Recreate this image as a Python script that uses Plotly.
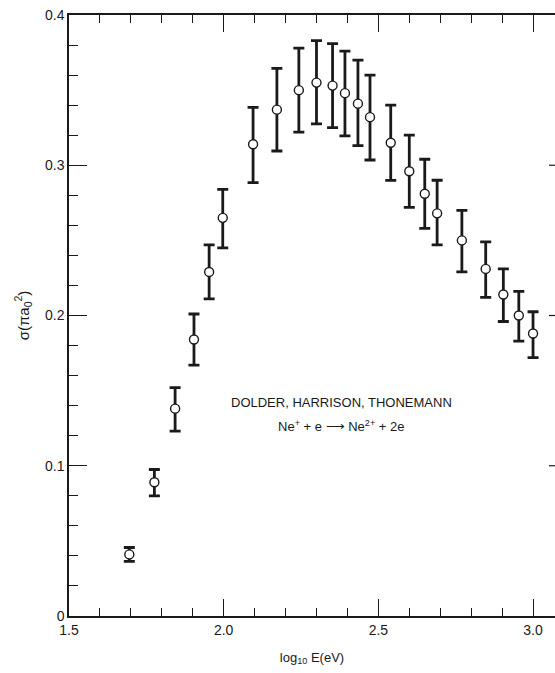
import plotly.graph_objects as go

# data
log_e = [1.695, 1.776, 1.843, 1.904, 1.953, 1.997, 2.095, 2.172, 2.243, 2.300, 2.352,
         2.392, 2.434, 2.473, 2.540, 2.600, 2.650, 2.690, 2.770, 2.847, 2.904, 2.954, 3.000]
sigma = [0.041, 0.089, 0.138, 0.184, 0.229, 0.265, 0.314, 0.337, 0.350, 0.355, 0.353,
         0.348, 0.341, 0.332, 0.315, 0.296, 0.281, 0.268, 0.250, 0.231, 0.214, 0.200, 0.188]
err_plus = [0.0046, 0.0085, 0.014, 0.017, 0.018, 0.019, 0.0245, 0.0275, 0.028, 0.028, 0.028,
            0.028, 0.029, 0.028, 0.025, 0.024, 0.023, 0.022, 0.020, 0.018, 0.017, 0.016, 0.0145]
err_minus = [0.0046, 0.0090, 0.015, 0.017, 0.018, 0.020, 0.0255, 0.0275, 0.028, 0.0275, 0.028,
             0.0285, 0.028, 0.0285, 0.025, 0.024, 0.023, 0.021, 0.021, 0.019, 0.018, 0.017, 0.016]

x_ticks = [1.5, 2.0, 2.5, 3.0]
y_ticks = [0, 0.1, 0.2, 0.3, 0.4]
label_line1 = "DOLDER, HARRISON, THONEMANN"
label_line2 = "Ne<sup>+</sup> + e \u27f6 Ne<sup>2+</sup> + 2e"

W, H = 555, 673
ML, MR, MT, MB = 69, 0, 15, 57
XMIN, XMAX = 1.5, 3.071
YMIN, YMAX = 0.0, 0.4

FONT = "Liberation Sans Narrow, Liberation Sans, Arial, sans-serif"
INK = "#1a1a1a"

fig = go.Figure()
fig.add_trace(go.Scatter(
    x=log_e, y=sigma, mode="markers",
    marker=dict(symbol="circle", size=9, color="white", line=dict(color=INK, width=1.4)),
    error_y=dict(type="data", symmetric=False, array=err_plus, arrayminus=err_minus,
                 color=INK, thickness=2.8, width=5.5),
    showlegend=False, cliponaxis=False,
))

fig.add_annotation(x=2.38, y=0.1418, xref="x", yref="y", text=label_line1, showarrow=False,
                   font=dict(family="Liberation Sans, Arial, sans-serif", size=13, color=INK))
fig.add_annotation(x=2.38, y=0.1265, xref="x", yref="y", text=label_line2, showarrow=False,
                   font=dict(family="Liberation Sans, Arial, sans-serif", size=13, color=INK))

# partial right-border major ticks (border lies just outside the frame)
for yv in y_ticks[1:-1]:
    fig.add_shape(type="line", xref="paper", yref="y", x0=(549 - ML) / (W - ML - MR), x1=1.0,
                  y0=yv, y1=yv, line=dict(color=INK, width=1.2))

fig.update_layout(
    width=W, height=H,
    margin=dict(l=ML, r=MR, t=MT, b=MB, pad=0),
    paper_bgcolor="white", plot_bgcolor="white",
    font=dict(family=FONT, size=14, color=INK),
    xaxis=dict(
        range=[XMIN, XMAX], tickvals=x_ticks, ticktext=[f"{v:.1f}" for v in x_ticks],
        ticks="inside", ticklen=17, tickwidth=1.2, tickcolor=INK,
        minor=dict(ticks="inside", ticklen=8, tickwidth=1.2, tickcolor=INK, dtick=0.1, tick0=1.5),
        showline=True, linecolor=INK, linewidth=1.5, mirror="ticks",
        showgrid=False, zeroline=False,
        title=dict(text="log<sub>10</sub> E(eV)", font=dict(size=13, family="Liberation Sans, Arial, sans-serif"), standoff=16),
        tickfont=dict(size=14),
    ),
    yaxis=dict(
        range=[YMIN, YMAX], tickvals=y_ticks, ticktext=["0", "0.1", "0.2", "0.3", "0.4"],
        ticks="inside", ticklen=18, tickwidth=1.2, tickcolor=INK,
        minor=dict(ticks="inside", ticklen=9, tickwidth=1.2, tickcolor=INK, dtick=0.02, tick0=0),
        showline=True, linecolor=INK, linewidth=1.5,
        showgrid=False, zeroline=False,
        title=dict(text="\u03c3(\u03c0a<sub>0</sub><sup>2</sup>)", font=dict(size=15, family="Liberation Sans, Arial, sans-serif"), standoff=12),
        tickfont=dict(size=14),
    ),
)

fig.write_html("out.html")
